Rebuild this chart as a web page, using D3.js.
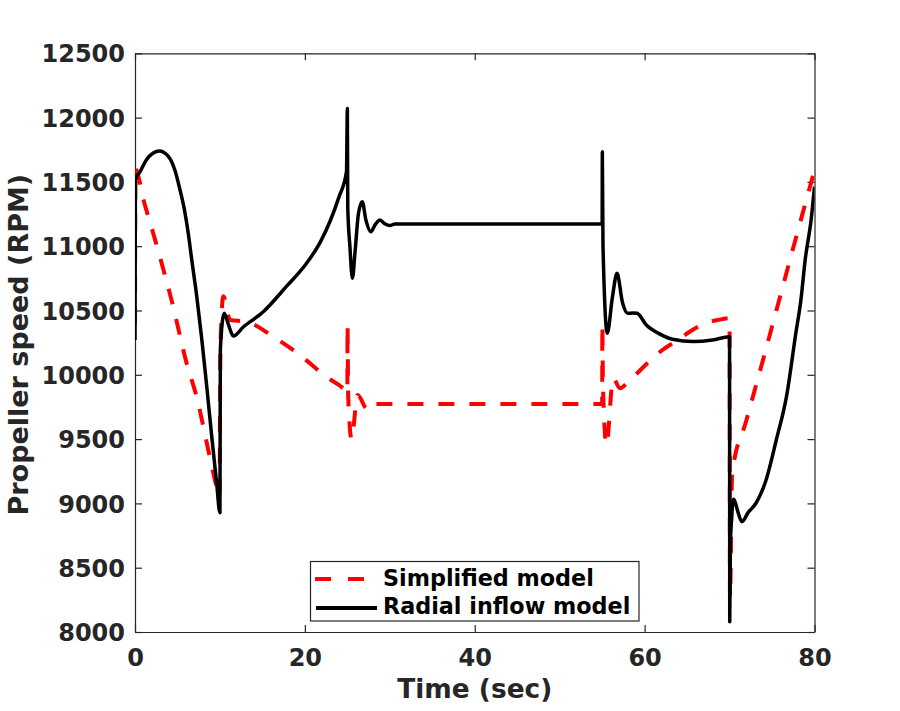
<!DOCTYPE html>
<html>
<head>
<meta charset="utf-8">
<script src="https://cdn.jsdelivr.net/npm/d3@7"></script>
<style>
  html, body { margin: 0; padding: 0; background: #fff; }
  svg { display: block; }
  text { font-family: "DejaVu Sans", sans-serif; font-weight: bold; }
</style>
</head>
<body>
<svg id="chart" width="900" height="711"></svg>
<script>
// ---------------- data ----------------
const xTicks = [0, 20, 40, 60, 80];
const yTicks = [8000, 8500, 9000, 9500, 10000, 10500, 11000, 11500, 12000, 12500];
const seriesNames = ["Simplified model", "Radial inflow model"];

// Simplified model (red dashed): time (s)
const simplifiedT = [0, 0.05, 1, 2.15, 3.14, 4.3, 6.08, 7.25, 8.8, 9.6, 9.95, 10.05, 10.4, 11.2, 13.1, 16.3, 19.4, 22.5, 24.7, 25.0, 25.02, 25.1, 25.5, 26.2, 27.4, 28.0, 55.0, 55.02, 55.1, 55.5, 56.3, 57.1, 57.9, 59.3, 60.7, 62.1, 63.9, 65.3, 67.1, 68.6, 69.95, 70.0, 70.05, 70.3, 72, 74, 76, 78, 80];
// Simplified model: propeller speed (RPM)
const simplifiedV = [10400, 11600, 11360, 11100, 10867, 10582, 10090, 9830, 9363, 9130, 9050, 10200, 10610, 10426, 10413, 10296, 10154, 9985, 9882, 9860, 10385, 9830, 9500, 9843, 9726, 9773, 9773, 10390, 9900, 9455, 9973, 9895, 9934, 10024, 10115, 10193, 10270, 10335, 10400, 10426, 10440, 10390, 8270, 9230, 9650, 10130, 10620, 11110, 11590];

// Radial inflow model (black solid): time (s)
const radialT = [0, 0.05, 0.6, 1.37, 2.15, 2.86, 3.9, 4.7, 5.3, 5.8, 6.27, 6.67, 7.25, 7.84, 8.43, 9.02, 9.61, 10.0, 10.05, 10.5, 11.0, 11.57, 12.75, 15.1, 17.8, 20.2, 21.8, 23.0, 24.0, 24.9, 25.0, 25.05, 25.3, 25.6, 25.9, 26.3, 26.75, 27.2, 27.76, 28.3, 28.82, 29.4, 30.0, 30.6, 55.0, 55.02, 55.1, 55.6, 56.2, 56.75, 57.4, 58.0, 58.6, 59.1, 60.2, 61.7, 63.3, 65.7, 68.0, 70.0, 70.02, 70.1, 70.5, 71.0, 71.45, 72.2, 73.1, 74.3, 75.5, 76.7, 77.8, 78.4, 78.9, 79.6, 80.0];
// Radial inflow model: propeller speed (RPM)
const radialV = [10270, 11515, 11580, 11675, 11725, 11740, 11700, 11590, 11437, 11290, 11100, 10900, 10620, 10290, 9920, 9530, 9160, 8928, 10200, 10478, 10390, 10302, 10372, 10490, 10685, 10867, 11030, 11200, 11380, 11580, 12070, 11300, 11000, 10750, 10950, 11250, 11346, 11200, 11113, 11170, 11204, 11175, 11160, 11173, 11173, 11735, 11000, 10323, 10600, 10789, 10560, 10478, 10480, 10478, 10387, 10320, 10276, 10258, 10270, 10296, 8080, 8700, 9032, 8930, 8858, 8930, 9001, 9182, 9493, 9830, 10323, 10582, 10893, 11204, 11463];

// ---------------- layout ----------------
const svg = d3.select("#chart");
const L = 135, R = 814.5, T = 53.3, B = 632;
const ink = "#262626";

const x = d3.scaleLinear().domain([0, 80]).range([L, R]);
const y = d3.scaleLinear().domain([8000, 12500]).range([B, T]);

const tickLen = 7;
const g = svg.append("g");

const axB = d3.axisBottom(x).tickValues(xTicks).tickSizeInner(-tickLen).tickSizeOuter(0).tickFormat(d3.format("d"));
const gB = g.append("g").attr("transform", `translate(0,${B})`).call(axB);
gB.selectAll("text").attr("y", 34).attr("dy", 0).style("font-size", "24px").attr("fill", ink);

const axT = d3.axisTop(x).tickValues(xTicks).tickSizeInner(-tickLen).tickSizeOuter(0).tickFormat("");
g.append("g").attr("transform", `translate(0,${T})`).call(axT);

const axL = d3.axisLeft(y).tickValues(yTicks).tickSizeInner(-tickLen).tickSizeOuter(0).tickFormat(d3.format("d"));
const gL = g.append("g").attr("transform", `translate(${L},0)`).call(axL);
gL.selectAll("text").attr("x", -10).attr("dy", "0.36em").style("font-size", "24px").attr("fill", ink);

const axR = d3.axisRight(y).tickValues(yTicks).tickSizeInner(-tickLen).tickSizeOuter(0).tickFormat("");
g.append("g").attr("transform", `translate(${R},0)`).call(axR);

g.selectAll(".domain").attr("stroke", ink).attr("stroke-width", 1.2);
g.selectAll(".tick line").attr("stroke", ink).attr("stroke-width", 1.2);
g.selectAll("text").style("font-family", "'DejaVu Sans', sans-serif").style("font-weight", "bold");

svg.append("clipPath").attr("id", "clip").append("rect")
  .attr("x", L).attr("y", T - 2).attr("width", R - L).attr("height", B - T + 4);

const lineRed = d3.line().x(d => x(d[0])).y(d => y(d[1])).curve(d3.curveMonotoneX);
const lineBlack = d3.line().x(d => x(d[0])).y(d => y(d[1])).curve(d3.curveMonotoneX);
const simplified = simplifiedT.map((t, i) => [t, simplifiedV[i]]);
const radial = radialT.map((t, i) => [t, radialV[i]]);

const lines = svg.append("g").attr("clip-path", "url(#clip)");
lines.append("path").datum(simplified)
  .attr("d", lineRed).attr("fill", "none").attr("stroke", "#ff0000")
  .attr("stroke-width", 4).attr("stroke-dasharray", "16,15").attr("stroke-linejoin", "round");
lines.append("path").datum(radial)
  .attr("d", lineBlack).attr("fill", "none").attr("stroke", "#000")
  .attr("stroke-width", 3.5).attr("stroke-linejoin", "round");

// axis labels
svg.append("text").attr("x", (L + R) / 2).attr("y", 698).attr("text-anchor", "middle")
  .style("font-size", "26.4px").attr("fill", ink).text("Time (sec)");
svg.append("text").attr("transform", `translate(28,${(T + B) / 2 + 2}) rotate(-90)`).attr("text-anchor", "middle")
  .style("font-size", "27px").attr("fill", ink).text("Propeller speed (RPM)");

// legend
const lg = svg.append("g");
lg.append("rect").attr("x", 310.5).attr("y", 561.5).attr("width", 328.5).attr("height", 59.5)
  .attr("fill", "#fff").attr("stroke", ink).attr("stroke-width", 1.2);
lg.append("line").attr("x1", 315).attr("x2", 375).attr("y1", 579).attr("y2", 579)
  .attr("stroke", "#ff0000").attr("stroke-width", 4).attr("stroke-dasharray", "16,17");
lg.append("line").attr("x1", 316).attr("x2", 377).attr("y1", 608).attr("y2", 608)
  .attr("stroke", "#000").attr("stroke-width", 4);
lg.append("text").attr("x", 383).attr("y", 586).style("font-size", "22.3px").attr("fill", "#000").text(seriesNames[0]);
lg.append("text").attr("x", 383).attr("y", 614.3).style("font-size", "22.3px").attr("fill", "#000").text(seriesNames[1]);
</script>
</body>
</html>
